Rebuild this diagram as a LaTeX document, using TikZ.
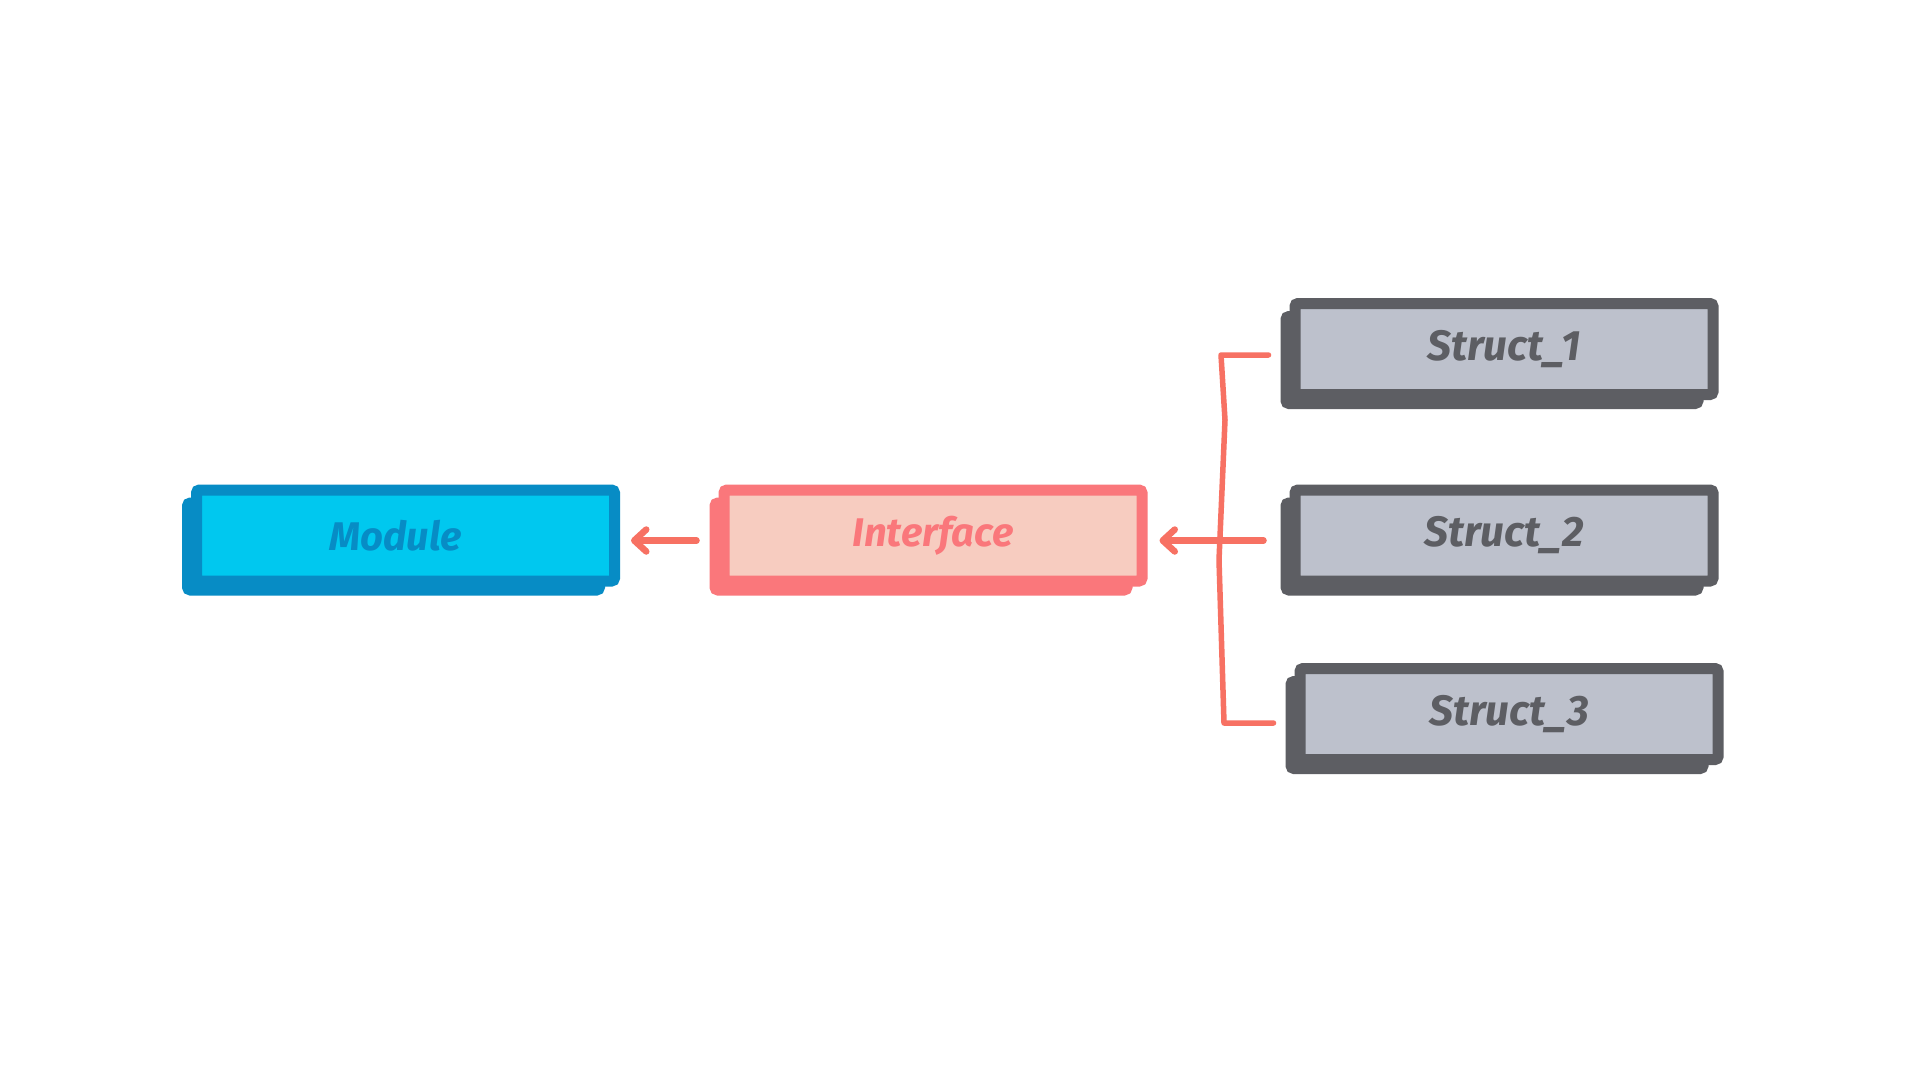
\documentclass[tikz,border=0pt]{standalone}
\usepackage{fontspec}
\setmainfont{Fira Sans}
\usetikzlibrary{arrows.meta,backgrounds}
\definecolor{modstroke}{HTML}{078CC5}
\definecolor{modfill}{HTML}{00C8EF}
\definecolor{ifstroke}{HTML}{FA777B}
\definecolor{iffill}{HTML}{F7CCC0}
\definecolor{ststroke}{HTML}{5D5E63}
\definecolor{stfill}{HTML}{BDC1CC}
\definecolor{arrowc}{HTML}{F77163}
\begin{document}
\begin{tikzpicture}[x=1pt,y=-1pt,
  boxbase/.style={draw, line width=11pt, rounded corners=3pt,
    minimum width=418pt, minimum height=91pt, inner sep=0pt,
    font=\fontsize{40}{48}\selectfont\bfseries\itshape},
  modbox/.style={boxbase, draw=modstroke, fill=modfill, text=modstroke},
  ifbox/.style={boxbase, draw=ifstroke, fill=iffill, text=ifstroke},
  stbox/.style={boxbase, draw=ststroke, fill=stfill, text=ststroke,
    font=\fontsize{42.5}{50}\selectfont\bfseries\itshape},
  shadowbox/.style={line width=11pt, rounded corners=3pt},
  conn/.style={draw=arrowc, line width=6.5pt, line cap=round, line join=round},
  arr/.style={conn, -{Straight Barb[length=12pt,width=22pt,round]}}
]
\useasboundingbox (0,0) rectangle (1920,1080);

\node[modbox] (module) at (405.5,535.5) {Module\hspace*{20pt}};
\node[ifbox] (iface) at (933,535.5) {Interface};
\node[stbox] (s1) at (1504,349) {\raisebox{-3pt}{Struct\_1}};
\node[stbox] (s2) at (1504,535.5) {\raisebox{-3pt}{Struct\_2}};
\node[stbox] (s3) at (1509,714) {\raisebox{-3pt}{Struct\_3}};

\begin{scope}[on background layer]
  \fill[white] (0,0) rectangle (1920,1080);
  \foreach \n/\c in {module/modstroke, iface/ifstroke, s1/ststroke, s2/ststroke, s3/ststroke}{
    \filldraw[shadowbox, draw=\c, fill=\c]
      ([shift={(-3.5,18.5)}]\n.north west) rectangle ([shift={(-20.5,3.5)}]\n.south east);
  }
\end{scope}

% connectors
\draw[arr, shorten <=22pt, shorten >=11pt] ([yshift=-5pt]iface.west) -- ([yshift=-5pt]module.east);
\draw[arr, shorten <=26pt, shorten >=12pt] ([yshift=-5pt]s2.west) -- ([yshift=-5pt]iface.east);

\coordinate (bt) at (1221,355);
\coordinate (bb) at (1224,723);
\draw[conn, line width=5.5pt] ([shift={(-21,6)}]s1.west) -- (bt) -- (1225,420) -- (1219,560) -- (bb) -- ([shift={(-21,9)}]s3.west);
\end{tikzpicture}
\end{document}
